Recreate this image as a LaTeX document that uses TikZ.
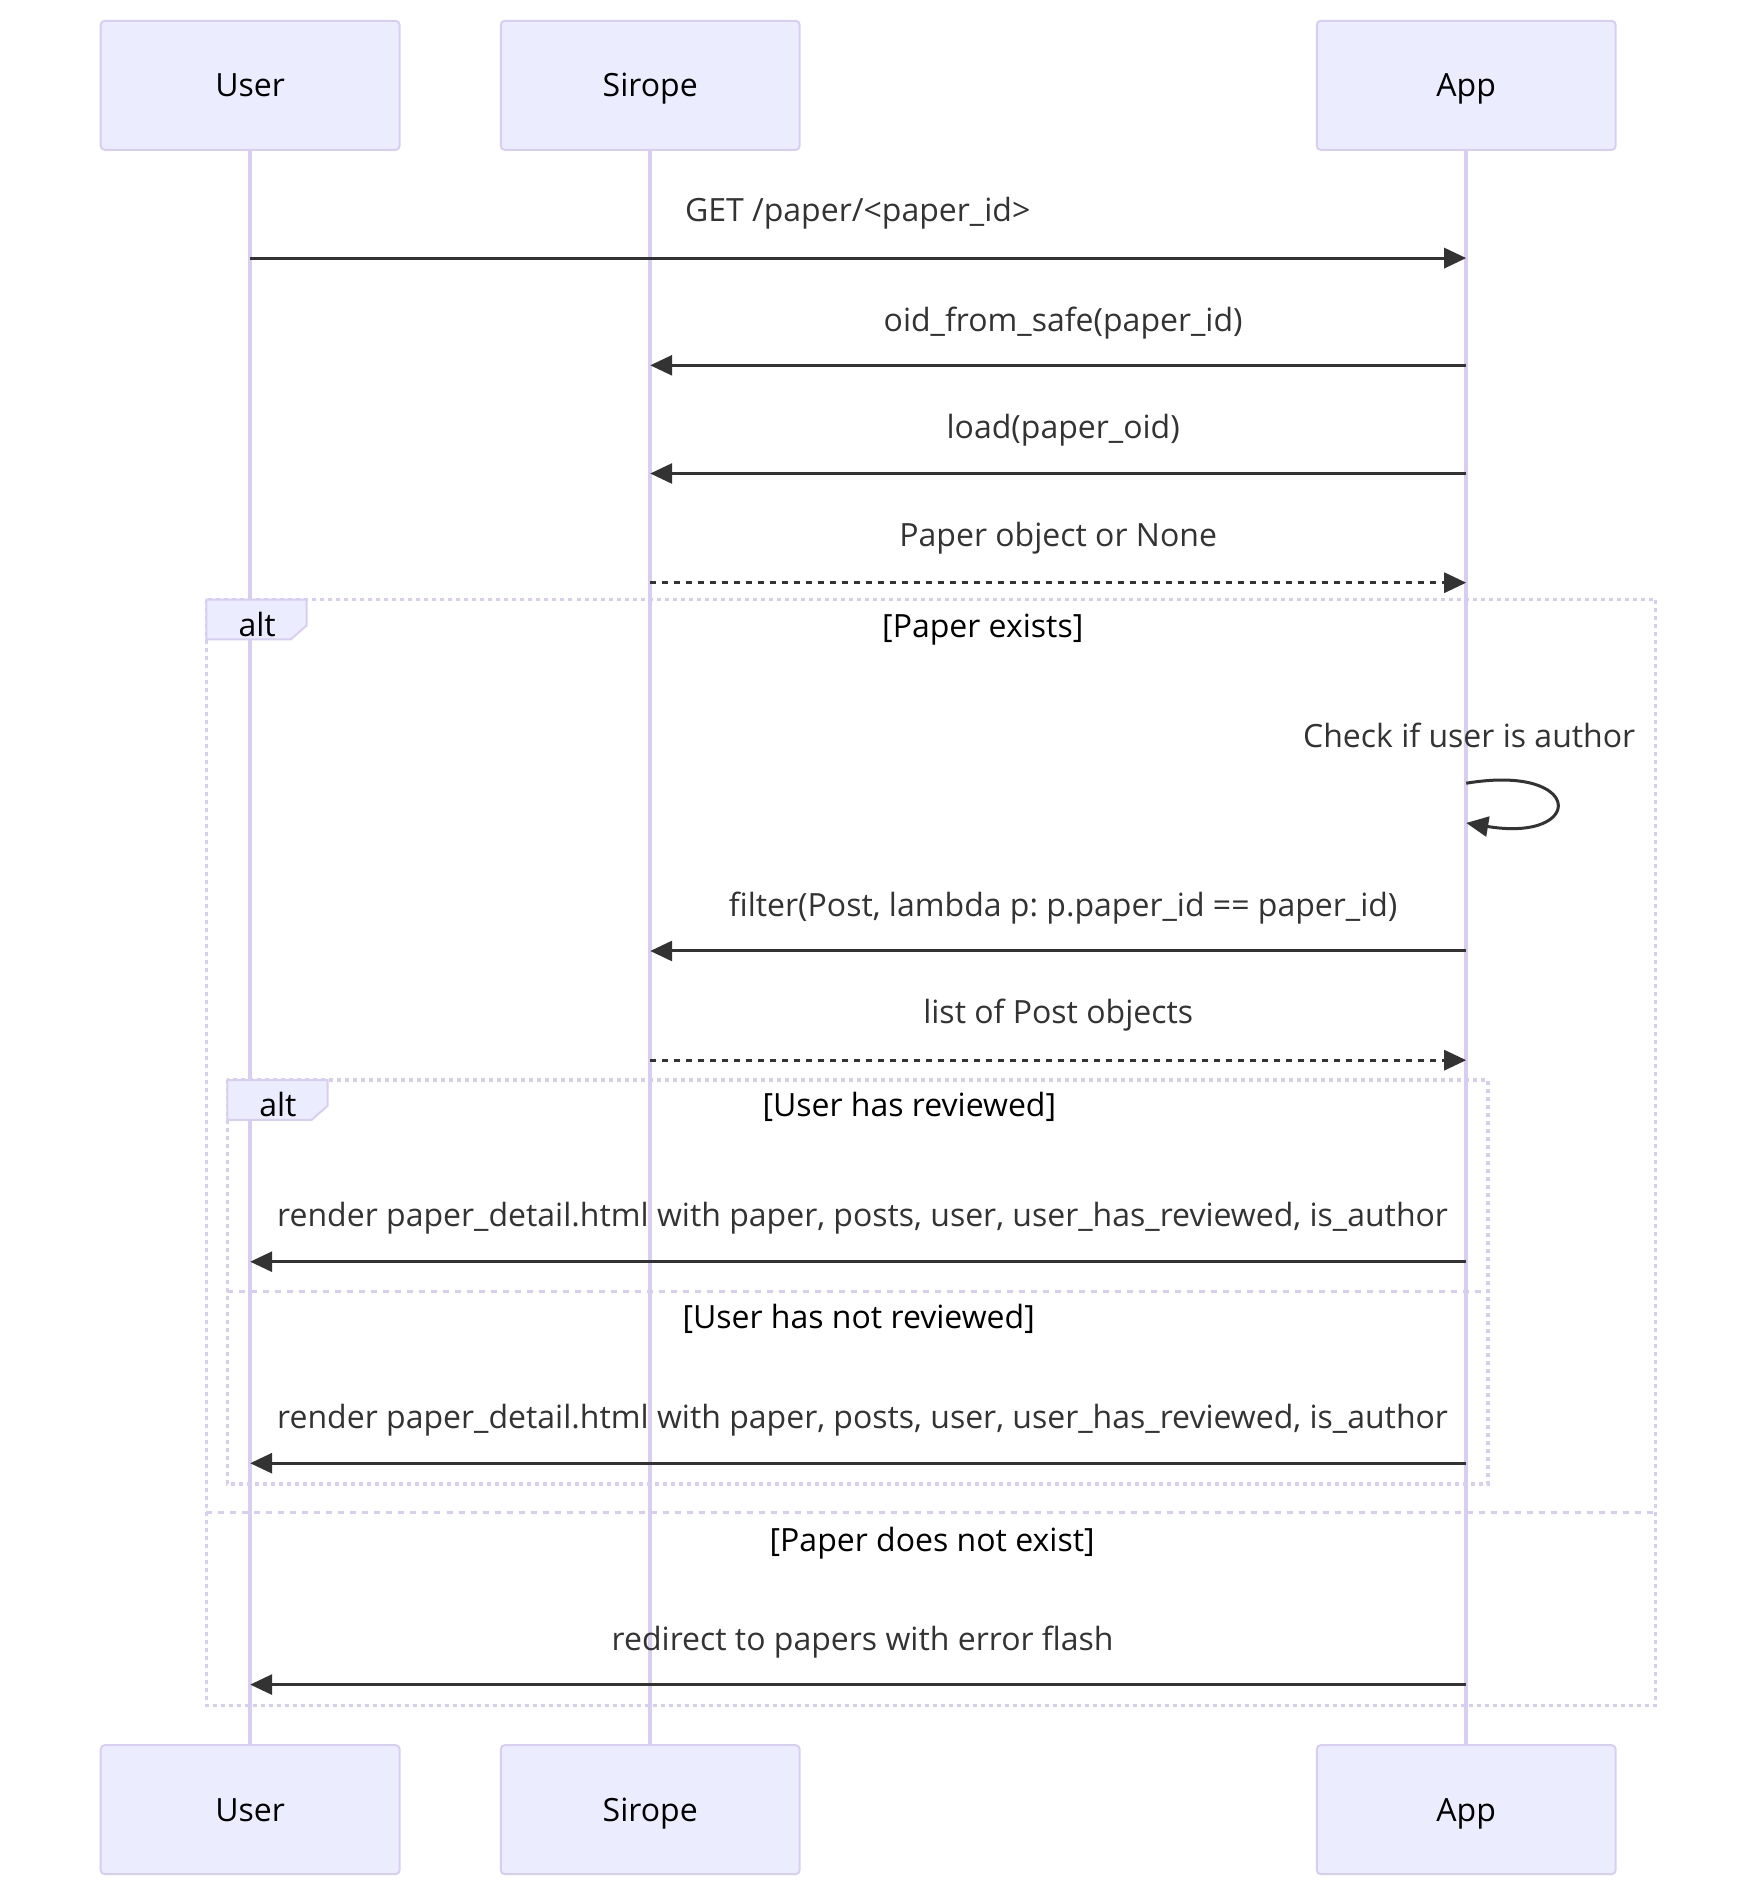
\documentclass[tikz,border=0pt]{standalone}
\usepackage{fontspec}
\setmainfont{Open Sans}
\newcommand*{\seqfont}{\fontsize{16}{20}\selectfont\frenchspacing}
\definecolor{actorfill}{HTML}{ECECFF}
\definecolor{actorline}{HTML}{D8CEF3}
\definecolor{msgtext}{HTML}{333333}
\usetikzlibrary{arrows.meta}
\tikzstyle{base}=[x=0.4963pt, y=-0.4963pt, inner sep=0pt, outer sep=0pt]
\tikzstyle{actor}=[draw=actorline, fill=actorfill, line width=1pt, rounded corners=2pt, minimum width=149.4pt, minimum height=64.5pt, text height=13pt, text depth=1.6pt]
\tikzstyle{lifeline}=[draw=actorline, line width=2pt]
\tikzstyle{msg}=[draw=msgtext, line width=1.5pt, -{Triangle[length=11pt,width=10pt]}]
\tikzstyle{reply}=[msg, dash pattern=on 3pt off 3pt]
\tikzstyle{msglabel}=[text=msgtext, text height=13pt, text depth=1.6pt]
\tikzstyle{condlabel}=[text height=13pt, text depth=1.6pt]
\tikzstyle{frame}=[draw=actorline, line width=1.6pt, dash pattern=on 2pt off 2pt]
\tikzstyle{split}=[draw=actorline, line width=1.6pt, dash pattern=on 3pt off 3pt]
\tikzstyle{altbox}=[draw=actorline, fill=actorfill, line width=1pt]

\begin{document}
\begin{tikzpicture}[base]
    \seqfont
    \path [use as bounding box] (0,0) rectangle (1769,1912);
        % actors
        \node [actor] (usertop) at (252,86) {User};
        \node [actor] (siropetop) at (655,86) {Sirope};
        \node [actor] (apptop) at (1477,86) {App};
        \node [actor] (userbot) at (252,1823) {User};
        \node [actor] (siropebot) at (655,1823) {Sirope};
        \node [actor] (appbot) at (1477,1823) {App};
        \draw [lifeline] (usertop) -- (userbot);
        \draw [lifeline] (siropetop) -- (siropebot);
        \draw [lifeline] (apptop) -- (appbot);
        % rows
        \coordinate (r1) at (0,260);
        \coordinate (r2) at (0,368);
        \coordinate (r3) at (0,477);
        \coordinate (r4) at (0,587);
        \coordinate (r5) at (0,789);
        \coordinate (r5b) at (0,829);
        \coordinate (r6) at (0,958);
        \coordinate (r7) at (0,1068);
        \coordinate (r8) at (0,1271);
        \coordinate (r9) at (0,1474);
        \coordinate (r10) at (0,1697);
        % frames
        \draw [frame] (208,604) rectangle (1668,1718);
        \draw [split] (208,1524) -- (1668,1524);
        \draw [altbox] (208,604) -- ++(101,0) -- ++(0,26) -- ++(-16,14) -- ++(-85,0) -- cycle;
        \node [condlabel] (alt1) at (259,630) {alt};
        \node [condlabel] (cond1) at (990,631) {[Paper exists]};
        \node [condlabel] (cond2) at (939,1551) {[Paper does not exist]};
        \draw [frame] (229,1088) rectangle (1499,1495);
        \draw [split] (229,1301) -- (1499,1301);
        \draw [altbox] (229,1088) -- ++(101,0) -- ++(0,26) -- ++(-16,14) -- ++(-85,0) -- cycle;
        \node [condlabel] (alt2) at (280,1113) {alt};
        \node [condlabel] (cond3) at (916,1113) {[User has reviewed]};
        \node [condlabel] (cond4) at (865,1327) {[User has not reviewed]};
        % messages
        \node [msglabel] (m1) at (864,212) {GET /paper/<paper\_id>};
        \draw [msg] (usertop |- r1) -- (apptop |- r1);
        \node [msglabel] (m2) at (1071,322) {oid\_from\_safe(paper\_id)};
        \draw [msg] (apptop |- r2) -- (siropetop |- r2);
        \node [msglabel] (m3) at (1071,430) {load(paper\_oid)};
        \draw [msg] (apptop |- r3) -- (siropetop |- r3);
        \node [msglabel] (m4) at (1066,539) {Paper object or None};
        \draw [reply] (siropetop |- r4) -- (apptop |- r4);
        \node [msglabel] (m5) at (1480,742) {Check if user is author};
        \draw [msg] (apptop |- r5) .. controls +(120,-20) and +(120,20) .. (apptop |- r5b);
        \node [msglabel] (m6) at (1071,912) {filter(Post, lambda p: p.paper\_id == paper\_id)};
        \draw [msg] (apptop |- r6) -- (siropetop |- r6);
        \node [msglabel] (m7) at (1066,1020) {list of Post objects};
        \draw [reply] (siropetop |- r7) -- (apptop |- r7);
        \node [msglabel] (m8) at (869,1224) {render paper\_detail.html with paper, posts, user, user\_has\_reviewed, is\_author};
        \draw [msg] (apptop |- r8) -- (usertop |- r8);
        \node [msglabel] (m9) at (869,1428) {render paper\_detail.html with paper, posts, user, user\_has\_reviewed, is\_author};
        \draw [msg] (apptop |- r9) -- (usertop |- r9);
        \node [msglabel] (m10) at (869,1651) {redirect to papers with error flash};
        \draw [msg] (apptop |- r10) -- (usertop |- r10);
\end{tikzpicture}
\end{document}
